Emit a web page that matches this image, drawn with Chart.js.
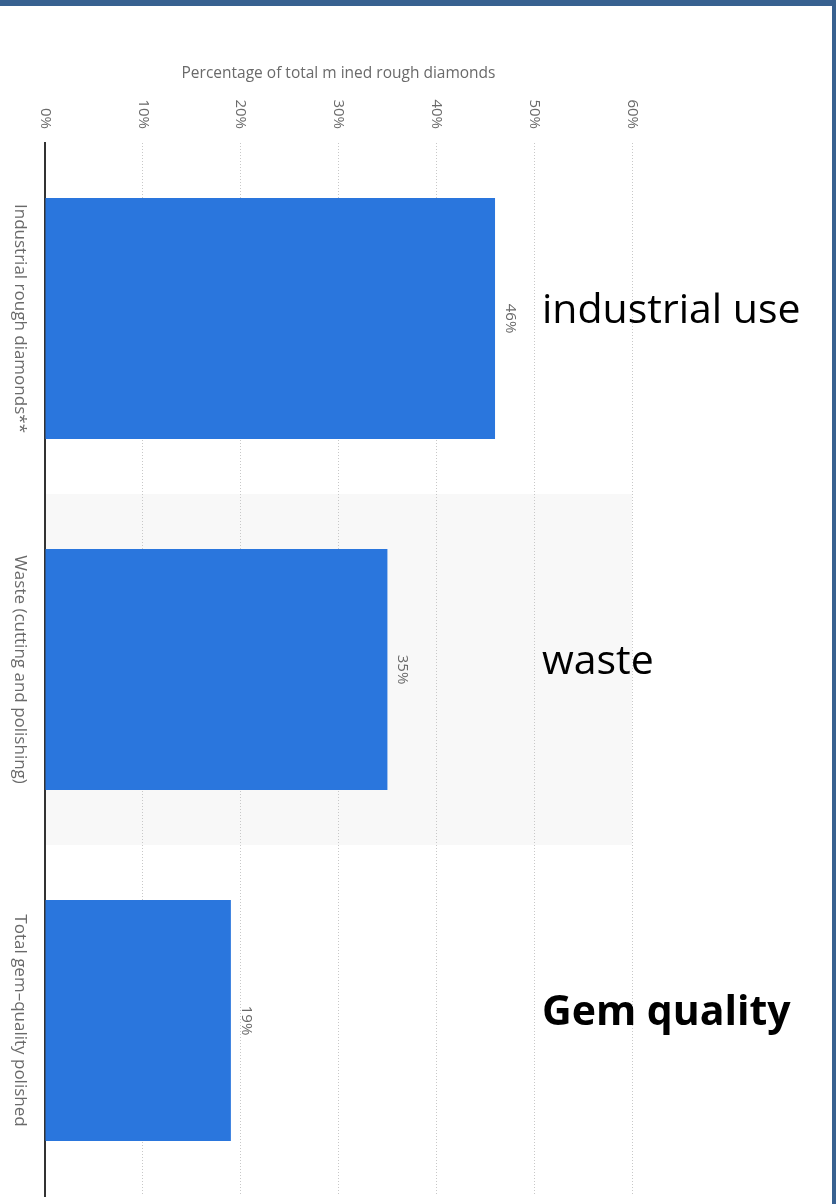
<!DOCTYPE html>
<html>
<head>
<meta charset="utf-8">
<title>Rough diamonds</title>
<script src="https://cdn.jsdelivr.net/npm/chart.js@4.4.0/dist/chart.umd.min.js"></script>
<style>
  html, body { margin: 0; padding: 0; background: #fff; }
  #wrap {
    position: relative;
    width: 836px;
    height: 1204px;
    box-sizing: border-box;
    border-top: 6px solid #386190;
    border-right: 4px solid #386190;
    overflow: hidden;
  }
  #chart { display: block; }
</style>
</head>
<body>
<div id="wrap">
  <canvas id="chart" width="832" height="1198"></canvas>
</div>
<script>
// -- Data --
const categories = ['Industrial rough diamonds**', 'Waste (cutting and polishing)', 'Total gem\u2013quality polished'];
const shares = [46, 35, 19];
const notes = ['industrial use', 'waste', 'Gem quality'];
const noteBold = [false, false, true];
const axisTitle = 'Percentage of total m ined rough diamonds';
const axisMin = 0;
const axisMax = 60;
const axisStep = 10;

const labelGray = '#6a6a6a';
const labelFont = '"Open Sans", "Noto Sans", sans-serif';

// shaded band behind the middle category
const bandPlugin = {
  id: 'band',
  beforeDraw(chart) {
    const { ctx, chartArea, scales } = chart;
    const y = scales.y;
    const half = (y.getPixelForValue(1) - y.getPixelForValue(0)) / 2;
    const c = y.getPixelForValue(1);
    ctx.save();
    ctx.fillStyle = '#f8f8f8';
    ctx.fillRect(chartArea.left, c - half, chartArea.right - chartArea.left, half * 2);
    ctx.restore();
  }
};

// rotated tick labels, category labels, value labels and the notes on the right
const textPlugin = {
  id: 'texts',
  afterDatasetsDraw(chart) {
    const { ctx, chartArea, scales } = chart;
    const x = scales.x, y = scales.y;
    ctx.save();
    ctx.fillStyle = labelGray;

    // axis title
    ctx.font = '15.5px ' + labelFont;
    ctx.textAlign = 'center';
    ctx.textBaseline = 'middle';
    ctx.fillText(axisTitle, (chartArea.left + chartArea.right) / 2, chartArea.top - 69);

    // tick labels (reading top to bottom)
    ctx.font = '15px ' + labelFont;
    x.ticks.forEach(t => {
      ctx.save();
      ctx.translate(x.getPixelForValue(t.value), chartArea.top - 14);
      ctx.rotate(Math.PI / 2);
      ctx.textAlign = 'right';
      ctx.textBaseline = 'middle';
      ctx.fillText(t.value + '%', 0, 0);
      ctx.restore();
    });

    // category labels
    ctx.font = '17px ' + labelFont;
    categories.forEach((c, i) => {
      ctx.save();
      ctx.translate(chartArea.left - 25, y.getPixelForValue(i));
      ctx.rotate(Math.PI / 2);
      ctx.textAlign = 'center';
      ctx.textBaseline = 'middle';
      ctx.fillText(c, 0, 0);
      ctx.restore();
    });

    // value labels
    ctx.font = '15px ' + labelFont;
    shares.forEach((v, i) => {
      ctx.save();
      ctx.translate(x.getPixelForValue(v) + 15, y.getPixelForValue(i));
      ctx.rotate(Math.PI / 2);
      ctx.textAlign = 'center';
      ctx.textBaseline = 'middle';
      ctx.fillText(v + '%', 0, 0);
      ctx.restore();
    });

    // notes
    ctx.fillStyle = '#000';
    ctx.textAlign = 'left';
    ctx.textBaseline = 'middle';
    notes.forEach((n, i) => {
      ctx.font = (noteBold[i] ? 'bold ' : '') + '41px ' + labelFont;
      ctx.fillText(n, 542, y.getPixelForValue(i) - 7);
    });
    ctx.restore();
  }
};

new Chart(document.getElementById('chart'), {
  type: 'bar',
  data: {
    labels: categories,
    datasets: [{
      data: shares,
      backgroundColor: '#2a76dd',
      borderWidth: 0,
      barPercentage: 0.687,
      categoryPercentage: 1
    }]
  },
  options: {
    indexAxis: 'y',
    responsive: false,
    animation: false,
    layout: { padding: { left: 45, right: 200, top: 137, bottom: 8 } },
    plugins: {
      legend: { display: false },
      tooltip: { enabled: false }
    },
    scales: {
      x: {
        position: 'top',
        min: axisMin,
        max: axisMax,
        ticks: { stepSize: axisStep, display: false },
        grid: { color: '#c8c8c8', lineWidth: 1, drawTicks: false },
        border: { display: false, dash: [1, 2] }
      },
      y: {
        ticks: { display: false },
        grid: { display: false, drawTicks: false },
        border: { display: true, color: '#333', width: 2 }
      }
    }
  },
  plugins: [bandPlugin, textPlugin]
});
</script>
</body>
</html>
